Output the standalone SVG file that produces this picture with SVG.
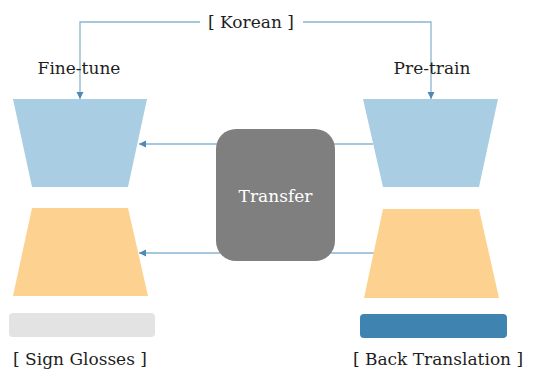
<svg xmlns="http://www.w3.org/2000/svg" width="542" height="378" viewBox="0 0 542 378">
<style>
.lbl{font-family:"DejaVu Serif","Liberation Serif",serif;font-size:17px;fill:#1e1e1e}
.conn{stroke:#8ab6d0;stroke-width:1.3;fill:none}
.enc{fill:#a9cde2}
.dec{fill:#fdd18f}
</style>
<defs>
<marker id="ah" markerWidth="8" markerHeight="8" refX="7" refY="4" orient="auto" markerUnits="userSpaceOnUse">
<path d="M0,0.5 L7,4 L0,7.5 Z" fill="#4d89b4"/>
</marker>
</defs>
<rect width="542" height="378" fill="#fff"/>
<g id="connectors">
<polyline class="conn" points="200,22 80,22 80,99" marker-end="url(#ah)"/>
<polyline class="conn" points="303,22 431,22 431,99" marker-end="url(#ah)"/>
<line class="conn" x1="373" y1="144" x2="139" y2="144" marker-end="url(#ah)"/>
<line class="conn" x1="375" y1="253" x2="139" y2="253" marker-end="url(#ah)"/>
</g>
<g id="korean"><text class="lbl" x="251" y="28" text-anchor="middle">[ Korean ]</text></g>
<g id="finetune-label"><text class="lbl" x="79" y="74" text-anchor="middle">Fine-tune</text></g>
<g id="pretrain-label"><text class="lbl" x="432" y="74" text-anchor="middle">Pre-train</text></g>
<g id="left-encoder"><polygon class="enc" points="13,99 147,99 128,187 32,187"/></g>
<g id="right-encoder"><polygon class="enc" points="363,99 498,99 479,187 383,187"/></g>
<g id="left-decoder"><polygon class="dec" points="32,208 128,208 148,296 13,296"/></g>
<g id="right-decoder"><polygon class="dec" points="383,209 479,209 499,298 364,298"/></g>
<g id="transfer">
<rect x="216" y="129" width="119" height="132" rx="20" fill="#7f7f7f"/>
<text x="275.5" y="202" text-anchor="middle" font-family="DejaVu Serif, Liberation Serif, serif" font-size="17" fill="#fff">Transfer</text>
</g>
<g id="sign-glosses">
<rect x="9" y="313" width="146" height="24" rx="4" fill="#e3e3e3"/>
<text class="lbl" x="80" y="365" text-anchor="middle">[ Sign Glosses ]</text>
</g>
<g id="back-translation">
<rect x="360" y="314" width="147" height="24" rx="4" fill="#3f84b1"/>
<text class="lbl" x="438" y="365" text-anchor="middle">[ Back Translation ]</text>
</g>
</svg>
